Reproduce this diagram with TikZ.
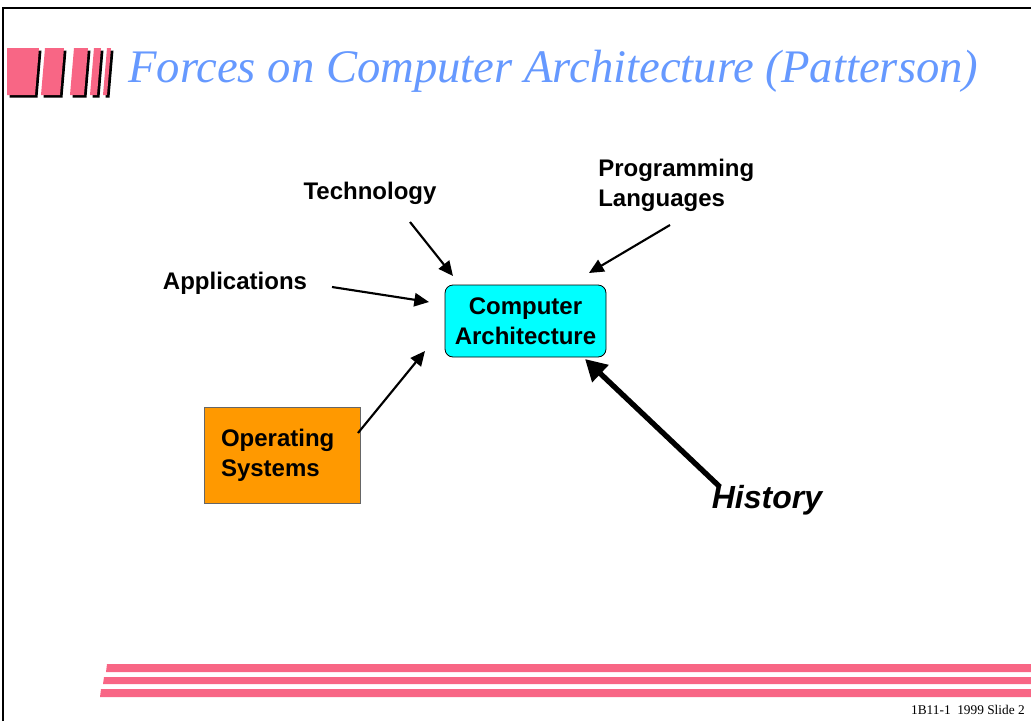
\documentclass[tikz,border=0pt]{standalone}
\usepackage{fontspec}
\setmainfont{Liberation Serif}
\setsansfont{Liberation Sans}
\usetikzlibrary{arrows.meta,calc}
\definecolor{pinkbar}{RGB}{248,102,133}
\definecolor{titleblue}{RGB}{102,153,255}
\definecolor{cabox}{RGB}{0,255,255}
\definecolor{osbox}{RGB}{255,153,0}
\begin{document}
\begin{tikzpicture}[x=0.75pt,y=-0.75pt,
  lbl/.style={font=\sffamily\bfseries\fontsize{18}{22.5}\selectfont, inner sep=0pt},
  force/.style={line width=1.6pt, -{Triangle[length=11pt,width=10pt]}},
  bigforce/.style={line width=4pt, -{Triangle[length=16pt,width=17pt]}},
  bar/.style={fill=pinkbar}]
\useasboundingbox (0,0) rectangle (1031,721);
% frame
\draw[line width=2pt] (3,721) -- (3,8) -- (1031,8);
% logo: pink slanted blocks with black shadow
\foreach \a/\b/\c/\d in {7/39/35/7, 45/64/60/41, 74/88/84/70, 94/101/97/90, 107/111/107/103}{
  \fill[black] (\a+2.5,50.5) -- (\b+2.5,50.5) -- (\c+2.5,97.5) -- (\d+2.5,97.5) -- cycle;
  \fill[pinkbar] (\a,48) -- (\b,48) -- (\c,95) -- (\d,95) -- cycle;
}
% title
\node[anchor=base west, inner sep=0pt, text=titleblue, font=\itshape\fontsize{35}{42}\selectfont] (title) at (128,82) {Forces on Computer Architecture (Patterson)};
% boxes
\node[draw=black, line width=0.6pt, fill=cabox, rounded corners=6pt, minimum width=120.75pt, minimum height=54pt, align=center, lbl] (ca) at (525.5,321) {Computer\\Architecture};
\node[draw=black!60, line width=0.6pt, fill=osbox, minimum width=117pt, minimum height=72pt, text width=91.5pt, inner xsep=12.75pt, align=left, lbl] (os) at (282,455) {Operating\\Systems};
% labels
\node[lbl] (tech) at (370,193) {Technology};
\node[lbl, anchor=west, align=left] (prog) at (598,185) {Programming\\Languages};
\node[lbl] (app) at (235,283) {Applications};
\node[font=\sffamily\bfseries\itshape\fontsize{24}{28}\selectfont, inner sep=0pt] (hist) at (767,500) {History};
% arrow coordinates
\coordinate (techS) at (410,222);
\coordinate (techE) at (453,276);
\coordinate (progS) at (670,225);
\coordinate (progE) at (589,273);
\coordinate (appS) at (332,287);
\coordinate (appE) at (429,302);
\coordinate (osS) at (358,433);
\coordinate (osE) at (425,351);
\coordinate (histS) at (720,487);
\coordinate (histE) at (585,359);
\draw[force] (techS) -- (techE);
\draw[force] (progS) -- (progE);
\draw[force] (appS) -- (appE);
\draw[force] (osS) -- (osE);
\draw[bigforce] (histS) -- (histE);
% footer bars
\fill[bar] (107,664) -- (1031,664) -- (1031,672) -- (106,672) -- cycle;
\fill[bar] (104,677) -- (1031,677) -- (1031,684) -- (103,684) -- cycle;
\fill[bar] (101,689) -- (1031,689) -- (1031,697) -- (100,697) -- cycle;
\node[anchor=base east, inner sep=0pt, font=\fontsize{10}{12}\selectfont] (foot) at (1025,714) {1B11-1\enspace 1999 Slide 2};
\end{tikzpicture}
\end{document}
